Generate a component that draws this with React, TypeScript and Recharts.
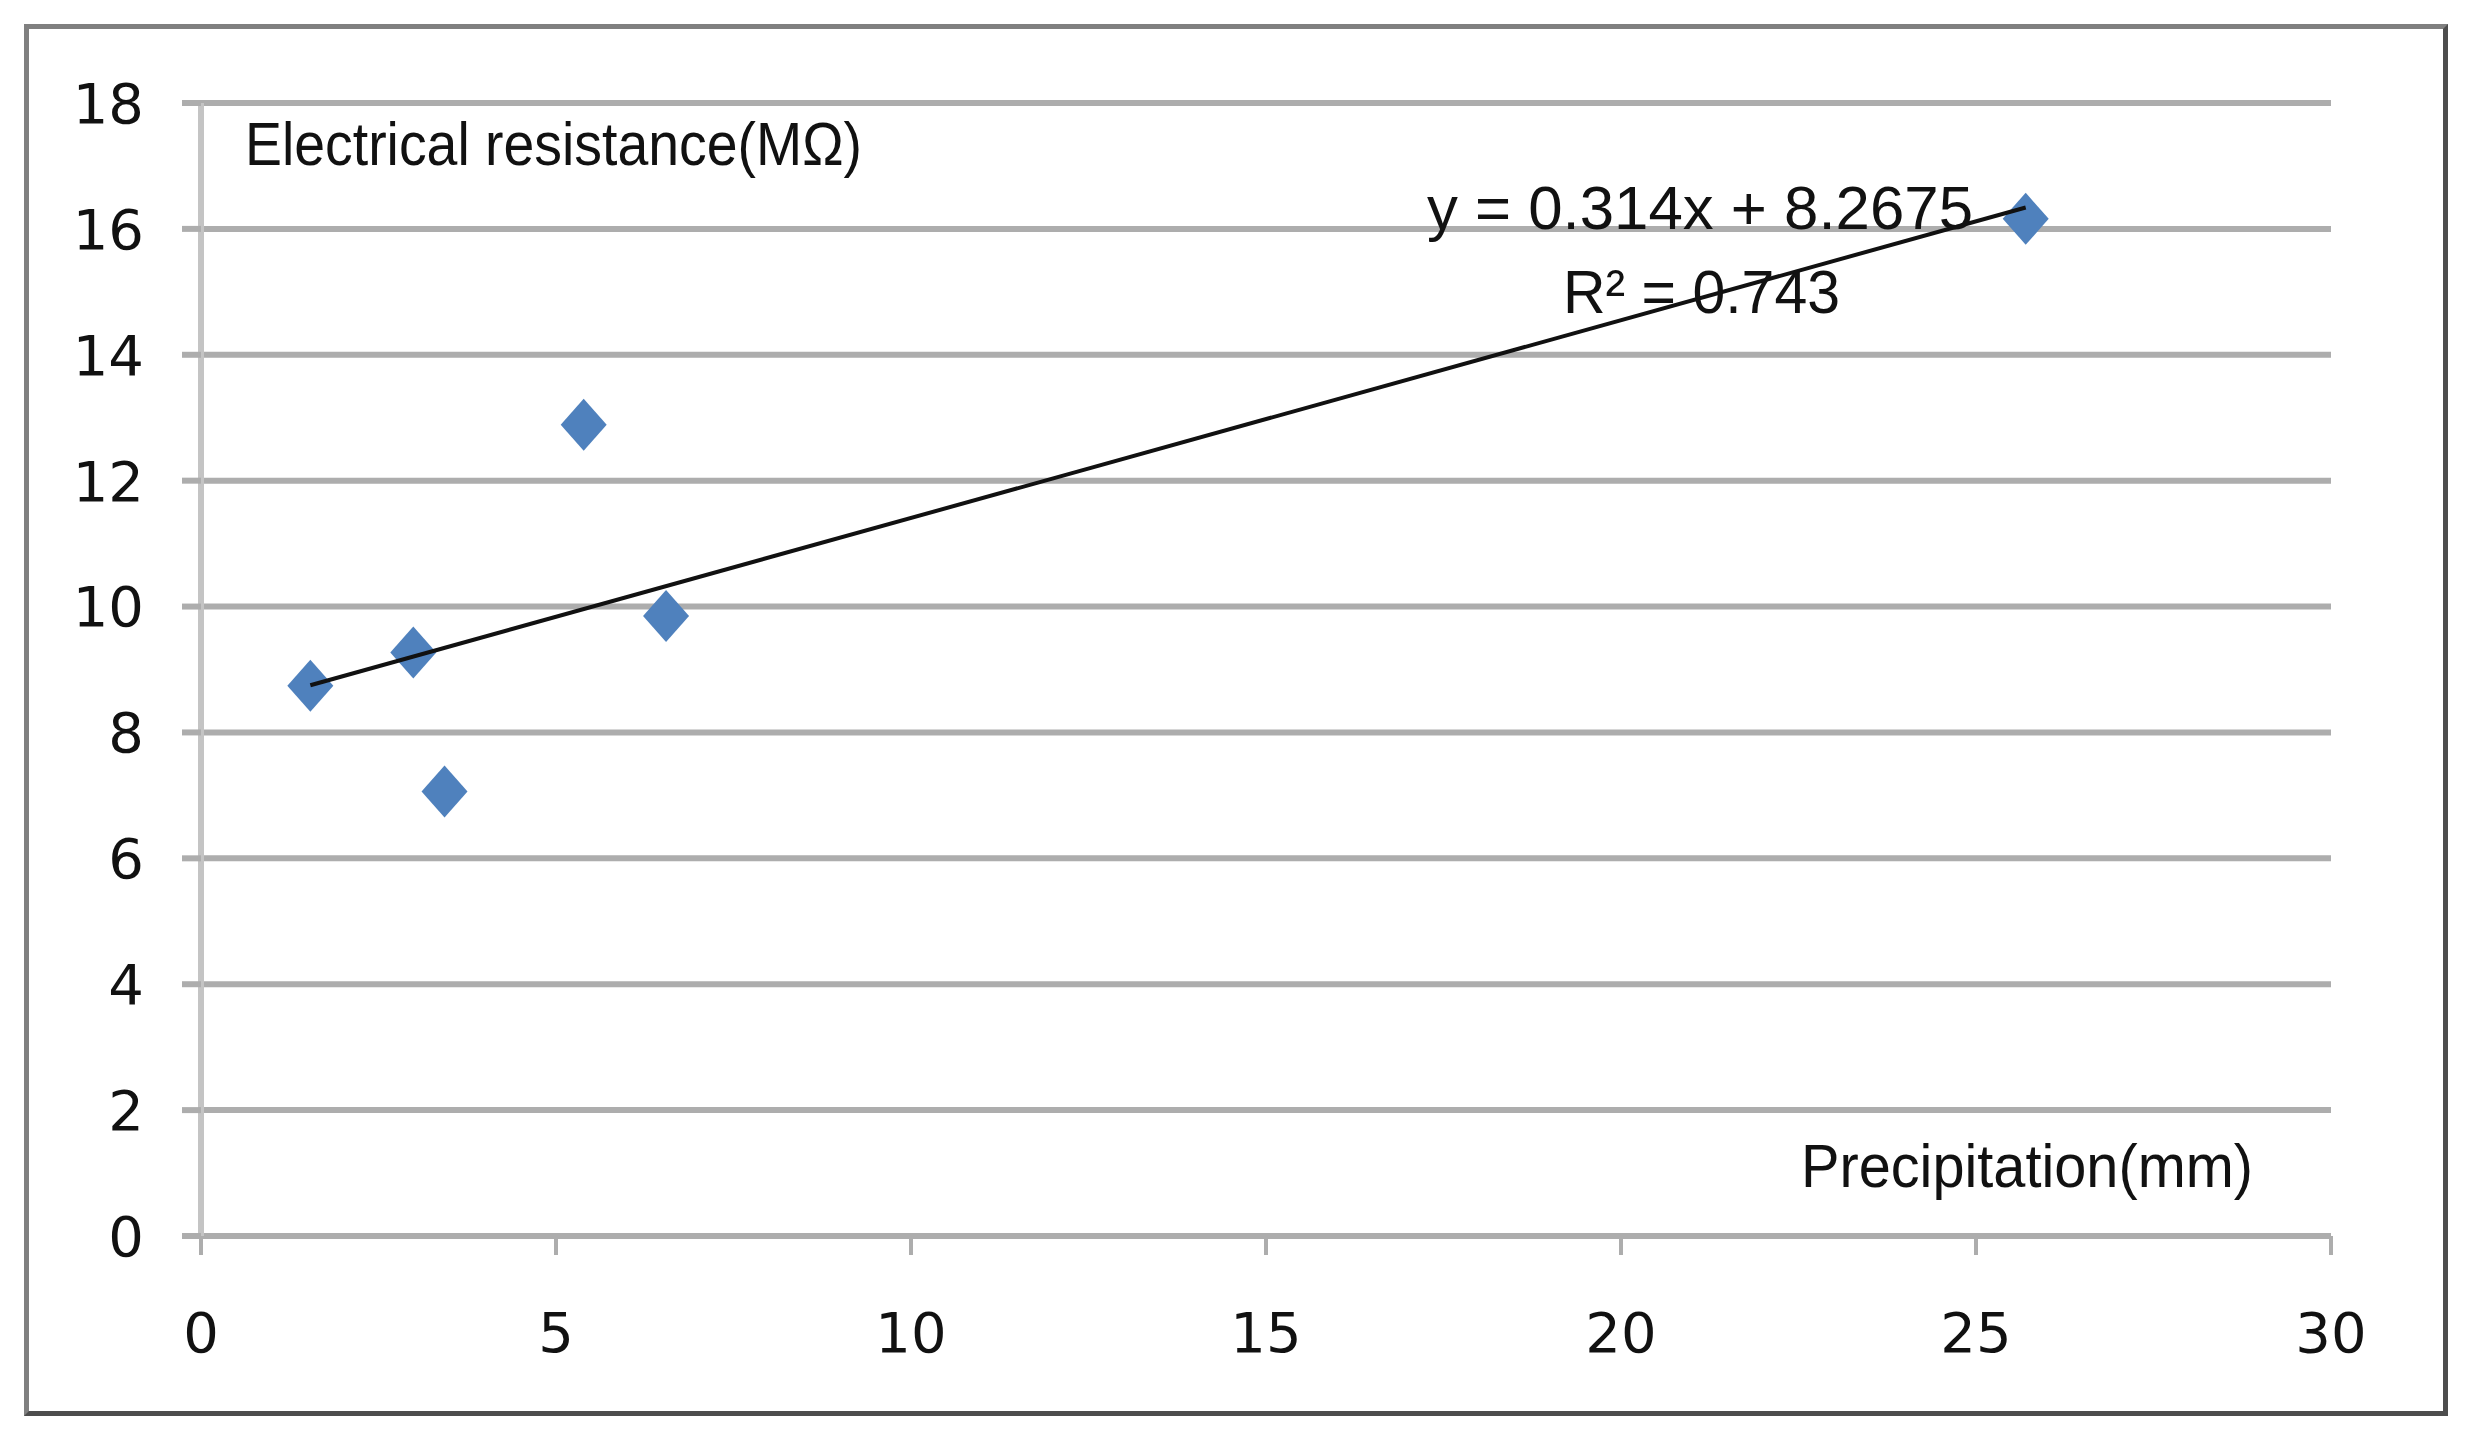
import React from 'react';
import { ScatterChart, Scatter, XAxis, YAxis, CartesianGrid } from 'recharts';

const precipitation = [1.54, 2.99, 3.43, 5.39, 6.55, 25.7];
const resistance = [8.74, 9.27, 7.06, 12.89, 9.85, 16.16];
const trendX = [1.54, 25.7];
const trendY = [8.75, 16.34];
const xTicks = [0, 5, 10, 15, 20, 25, 30];
const yTicks = [0, 2, 4, 6, 8, 10, 12, 14, 16, 18];
const equationText = 'y = 0.314x + 8.2675';
const r2Text = 'R\u00B2 = 0.743';
const xTitle = 'Precipitation(mm)';
const yTitle = 'Electrical resistance(M\u03A9)';

const points = precipitation.map((x, i) => ({ x, y: resistance[i] }));
const trend = trendX.map((x, i) => ({ x, y: trendY[i] }));

const GRID = '#adadad';
const TEXT_FONT = "'Liberation Sans', Arial, sans-serif";
const TICK_FONT = "'DejaVu Sans', sans-serif";

const Diamond = (props: any) => {
  const { cx, cy } = props;
  if (cx == null || cy == null) return <g />;
  return (
    <path
      d={`M${cx},${cy - 26} L${cx + 23},${cy} L${cx},${cy + 26} L${cx - 23},${cy} Z`}
      fill="#4f81bd"
    />
  );
};

const Nothing = () => <g />;

export default function App() {
  return (
    <div style={{ position: 'absolute', left: 0, top: 0, width: 2481, height: 1453, background: '#fff' }}>
      <div
        style={{
          position: 'absolute',
          left: 24,
          top: 24,
          width: 2424,
          height: 1392,
          boxSizing: 'border-box',
          border: '5px solid #808080',
          borderRightColor: '#4d4d4d',
          borderBottomColor: '#4d4d4d',
        }}
      />
      <div style={{ position: 'absolute', left: 0, top: 0 }}>
        <ScatterChart
          width={2481}
          height={1453}
          margin={{ top: 103, right: 150, bottom: 97, left: 81 }}
        >
          <CartesianGrid horizontal={true} vertical={false} stroke={GRID} strokeWidth={6} />
          <XAxis
            type="number"
            dataKey="x"
            domain={[0, 30]}
            ticks={xTicks}
            interval={0}
            height={120}
            axisLine={{ stroke: GRID, strokeWidth: 6 }}
            tickLine={{ stroke: GRID, strokeWidth: 4 }}
            tickSize={19}
            tickMargin={57}
            tick={{ fill: '#111', fontSize: 56, fontFamily: TICK_FONT }}
          />
          <YAxis
            type="number"
            dataKey="y"
            domain={[0, 18]}
            ticks={yTicks}
            interval={0}
            width={120}
            axisLine={{ stroke: '#c4c4c4', strokeWidth: 6 }}
            tickLine={{ stroke: GRID, strokeWidth: 6 }}
            tickSize={19}
            tickMargin={38}
            tick={{ fill: '#111', fontSize: 56, fontFamily: TICK_FONT }}
          />
          <Scatter data={points} shape={Diamond} isAnimationActive={false} />
          <Scatter
            data={trend}
            shape={Nothing}
            line={{ stroke: '#111', strokeWidth: 4 }}
            isAnimationActive={false}
          />
        </ScatterChart>
      </div>
      <svg
        width={2481}
        height={1453}
        style={{ position: 'absolute', left: 0, top: 0, pointerEvents: 'none' }}
      >
        <text x={245} y={165} fontSize={62} fontFamily={TEXT_FONT} fill="#111" textLength={617} lengthAdjust="spacingAndGlyphs">
          {yTitle}
        </text>
        <text x={1427} y={229} fontSize={62} fontFamily={TEXT_FONT} fill="#111" textLength={546} lengthAdjust="spacingAndGlyphs">
          {equationText}
        </text>
        <text x={1563} y={313} fontSize={62} fontFamily={TEXT_FONT} fill="#111" textLength={277} lengthAdjust="spacingAndGlyphs">
          {r2Text}
        </text>
        <text x={1801} y={1187} fontSize={62} fontFamily={TEXT_FONT} fill="#111" textLength={452} lengthAdjust="spacingAndGlyphs">
          {xTitle}
        </text>
      </svg>
    </div>
  );
}
